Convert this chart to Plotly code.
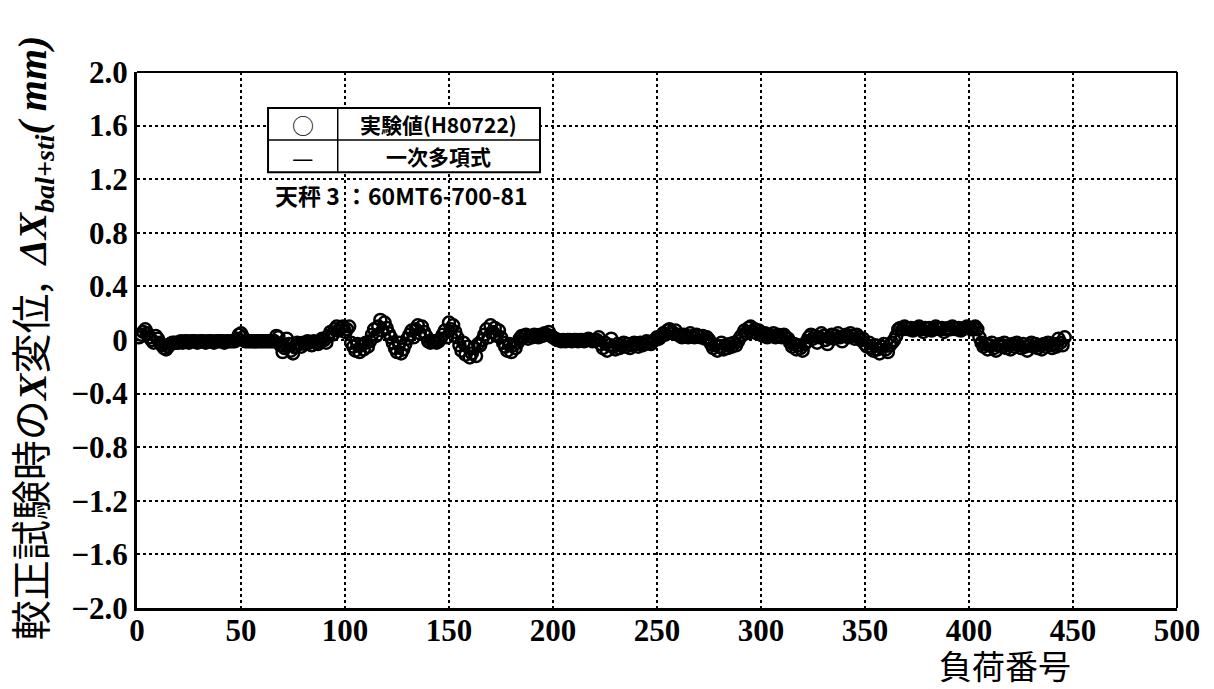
import plotly.graph_objects as go

# Measured X displacement per load number (mm), grouped by load-number blocks
seg_001_020 = [0.02, 0.04, 0.06, 0.08, 0.05, 0.02, 0.00, -0.02, 0.03, 0.01,
               -0.02, -0.04, -0.06, -0.07, -0.05, -0.03, -0.02, -0.02, -0.02, -0.02]
seg_021_066 = [-0.01, -0.02, -0.01, -0.01, -0.02, -0.01, -0.01, -0.01, -0.02, -0.01,
               -0.01, -0.01, -0.02, -0.01, -0.01, -0.01, -0.02, -0.01, -0.01, -0.01,
               -0.01, -0.02, -0.01, -0.01, -0.01, -0.01, -0.01, 0.01, 0.04, 0.05,
               0.02, -0.01, -0.01, -0.01, -0.01, -0.01, -0.01, -0.01, -0.01, -0.01,
               -0.01, -0.01, -0.01, -0.01, -0.01, -0.01]
seg_067_102 = [0.03, 0.02, -0.04, -0.09, -0.06, 0.01, -0.03, -0.08, -0.10, -0.05,
               -0.02, -0.03, -0.05, -0.02, -0.03, -0.01, -0.02, -0.04, -0.01, -0.02,
               -0.03, -0.01, 0.01, 0.00, -0.02, 0.03, 0.06, 0.04, 0.08, 0.10,
               0.07, 0.09, 0.10, 0.06, 0.08, 0.10]
seg_103_153 = [-0.02, -0.05, -0.08, -0.03, -0.09, -0.04, -0.07, -0.02, -0.05, -0.01,
               0.04, 0.08, 0.03, 0.10, 0.15, 0.07, 0.13, 0.09, 0.05, 0.02,
               -0.02, -0.06, -0.09, -0.02, -0.10, -0.07, -0.03, 0.01,
               0.04, 0.07, 0.02, 0.08, 0.11, 0.05, 0.10, 0.06, 0.03,
               -0.01, -0.02, -0.01, -0.01, -0.02, -0.01, 0.01, 0.04,
               0.07, 0.02, 0.13, 0.08, 0.11, 0.06]
seg_154_202 = [0.02, -0.04, -0.08, -0.02, -0.11, -0.05, -0.13, -0.10, -0.06, -0.12, -0.03, -0.04,
               0.00, 0.04, 0.08, 0.02, 0.11, 0.06, 0.09, 0.03, 0.07, 0.02,
               -0.02, -0.05, -0.08, -0.03, -0.09, -0.04, -0.06, -0.02, 0.01,
               0.03, 0.02, 0.04, 0.01, 0.03, 0.02, 0.04, 0.03, 0.02, 0.04,
               0.03, 0.05, 0.04, 0.06, 0.03, 0.02, 0.01, 0.00]
seg_203_251 = [0.00, -0.01, 0.00, -0.01, 0.00, 0.00, -0.01, 0.00, 0.00, -0.01,
               0.00, 0.00, -0.01, 0.00, 0.01, 0.00, -0.01, 0.00, 0.00,
               0.02, -0.03, -0.06, -0.02, -0.08, -0.04, 0.01, -0.05, -0.07, -0.03, -0.06,
               -0.04, -0.02, -0.05, -0.03, -0.06, -0.04, -0.02, -0.03, -0.05, -0.02,
               -0.04, -0.03, -0.01, -0.02, -0.03, -0.01, 0.00, 0.02, 0.01]
seg_252_322 = [0.03, 0.05, 0.04, 0.07, 0.08, 0.06, 0.05, 0.07, 0.04, 0.03,
               0.02, 0.04, 0.03, 0.02, 0.05, 0.03, 0.02, 0.04, 0.03, 0.02, 0.03, 0.01, 0.02, 0.00,
               -0.03, -0.06, -0.04, -0.08, -0.05, -0.02, -0.07, -0.04, -0.06, -0.03,
               -0.05, -0.02, -0.04, -0.01, 0.02,
               0.04, 0.07, 0.05, 0.09, 0.10, 0.06, 0.08, 0.05, 0.07, 0.04,
               0.03, 0.05, 0.02, 0.04, 0.03, 0.05, 0.02, 0.04, 0.03, 0.02, 0.04, 0.02, 0.01,
               -0.02, -0.05, -0.03, -0.07, -0.04, -0.06, -0.08, -0.03, -0.01]
seg_323_365 = [0.02, 0.04, 0.01, 0.03, -0.02, 0.02, 0.05, 0.03, 0.00, -0.03,
               0.02, 0.04, 0.01, 0.03, 0.05, 0.02, -0.01, 0.03, 0.04, 0.02,
               0.05, 0.03, 0.01, 0.04, 0.02, 0.00,
               0.01, -0.03, -0.05, -0.02, -0.06, -0.08, -0.04, -0.07, -0.10, -0.05,
               -0.03, -0.07, -0.09, -0.04, -0.02, 0.00, 0.03]
seg_366_404 = [0.08, 0.09, 0.08, 0.10, 0.09, 0.08, 0.09, 0.07, 0.08, 0.09,
               0.10, 0.08, 0.06, 0.09, 0.08, 0.09, 0.07, 0.08, 0.10, 0.09,
               0.08, 0.09, 0.06, 0.08, 0.09, 0.08, 0.10, 0.09, 0.08, 0.09,
               0.07, 0.08, 0.09, 0.10, 0.09, 0.08, 0.09, 0.10, 0.08]
seg_405_446 = [0.02, -0.02, -0.05, -0.03, -0.07, -0.04, -0.02, -0.06, -0.08, -0.04,
               -0.03, -0.05, -0.02, -0.06, -0.04, -0.07, -0.03, -0.05, -0.02, -0.04,
               -0.06, -0.03, -0.05, -0.08, -0.04, -0.02, -0.05, -0.03, -0.06, -0.04,
               -0.07, -0.03, -0.05, -0.02, -0.04, -0.06, -0.03, -0.05, 0.01, -0.02,
               -0.04, 0.02]

measured = (seg_001_020 + seg_021_066 + seg_067_102 + seg_103_153 + seg_154_202
            + seg_203_251 + seg_252_322 + seg_323_365 + seg_366_404 + seg_405_446)
load_no = list(range(1, len(measured) + 1))

y_ticks = [2.0, 1.6, 1.2, 0.8, 0.4, 0.0, -0.4, -0.8, -1.2, -1.6, -2.0]
y_tick_text = ["2.0", "1.6", "1.2", "0.8", "0.4", "0", "\u22120.4", "\u22120.8",
               "\u22121.2", "\u22121.6", "\u22122.0"]
x_ticks = [0, 50, 100, 150, 200, 250, 300, 350, 400, 450, 500]

tick_font = dict(family="Liberation Serif", size=31, color="black", weight="bold")

fig = go.Figure()
# first-order polynomial fit line
fig.add_trace(go.Scatter(x=load_no, y=measured, mode="lines",
                         line=dict(color="black", width=3), name="一次多項式"))
# measured values
fig.add_trace(go.Scatter(x=load_no, y=measured, mode="markers",
                         marker=dict(symbol="circle-open", size=12, color="black",
                                     line=dict(width=2.5, color="black")),
                         name="実験値(H80722)"))

fig.update_layout(
    width=1214, height=689,
    margin=dict(l=137, r=37, t=72, b=81),
    paper_bgcolor="white", plot_bgcolor="white",
    showlegend=False,
    xaxis=dict(range=[0, 500], tickvals=x_ticks, ticks="", tickfont=tick_font,
               showgrid=True, gridcolor="black", griddash="dot", gridwidth=1.5,
               showline=True, linecolor="black", linewidth=3, mirror=False,
               zeroline=False, ticklabelstandoff=-7),
    yaxis=dict(range=[-2.0, 2.0], tickvals=y_ticks, ticktext=y_tick_text, ticks="",
               tickfont=tick_font,
               showgrid=True, gridcolor="black", griddash="dot", gridwidth=1.5,
               showline=True, linecolor="black", linewidth=3, mirror=False,
               zeroline=False, ticklabelstandoff=0),
)

# frame on top and right
fig.add_shape(type="line", xref="paper", yref="paper", x0=0, x1=1, y0=1, y1=1,
              line=dict(color="black", width=2))
fig.add_shape(type="line", xref="paper", yref="paper", x0=1, x1=1, y0=0, y1=1,
              line=dict(color="black", width=2))

# legend table
lx0, lx1, lxd = 0.126, 0.3875, 0.193
ly0, ly1, lym = 0.813, 0.933, 0.873
fig.add_shape(type="rect", xref="paper", yref="paper", x0=lx0, x1=lx1, y0=ly0, y1=ly1,
              line=dict(color="black", width=2), fillcolor="white", layer="above")
fig.add_shape(type="line", xref="paper", yref="paper", x0=lxd, x1=lxd, y0=ly0, y1=ly1,
              line=dict(color="black", width=1.5), layer="above")
fig.add_shape(type="line", xref="paper", yref="paper", x0=lx0, x1=lx1, y0=lym, y1=lym,
              line=dict(color="black", width=1.5), layer="above")

cjk = "Noto Sans CJK JP"


def note(x, y, text, size, bold=False, **kw):
    font = dict(family=cjk, size=size, color="black")
    if bold:
        font["weight"] = "bold"
    fig.add_annotation(xref="paper", yref="paper", x=x, y=y, text=text,
                       showarrow=False, xanchor="center", yanchor="middle",
                       font=font, **kw)


note((lx0 + lxd) / 2, (lym + ly1) / 2, "○", 22)
note((lxd + lx1) / 2, (lym + ly1) / 2, "実験値(H80722)", 21, bold=True)
note((lx0 + lxd) / 2, (ly0 + lym) / 2, "—", 24)
note((lxd + lx1) / 2, (ly0 + lym) / 2, "一次多項式", 21, bold=True)
note(0.2545, 0.771, "天秤 3 ：60MT6-700-81", 23, bold=True)

# axis titles
note(0.835, -0.106, "負荷番号", 33)
serif = "font-family:'Liberation Serif';"
note(-0.103, 0.505,
     ("較正試験時の<span style=\"" + serif + "\"><b><i>X</i></b></span>変位,  "
      "<span style=\"" + serif + "\"><b><i>ΔX</i></b><sub><b><i>bal+sti</i></b></sub>"
      "<b><i>( mm)</i></b></span>"),
     40, textangle=-90)

fig.write_html("out.html")
